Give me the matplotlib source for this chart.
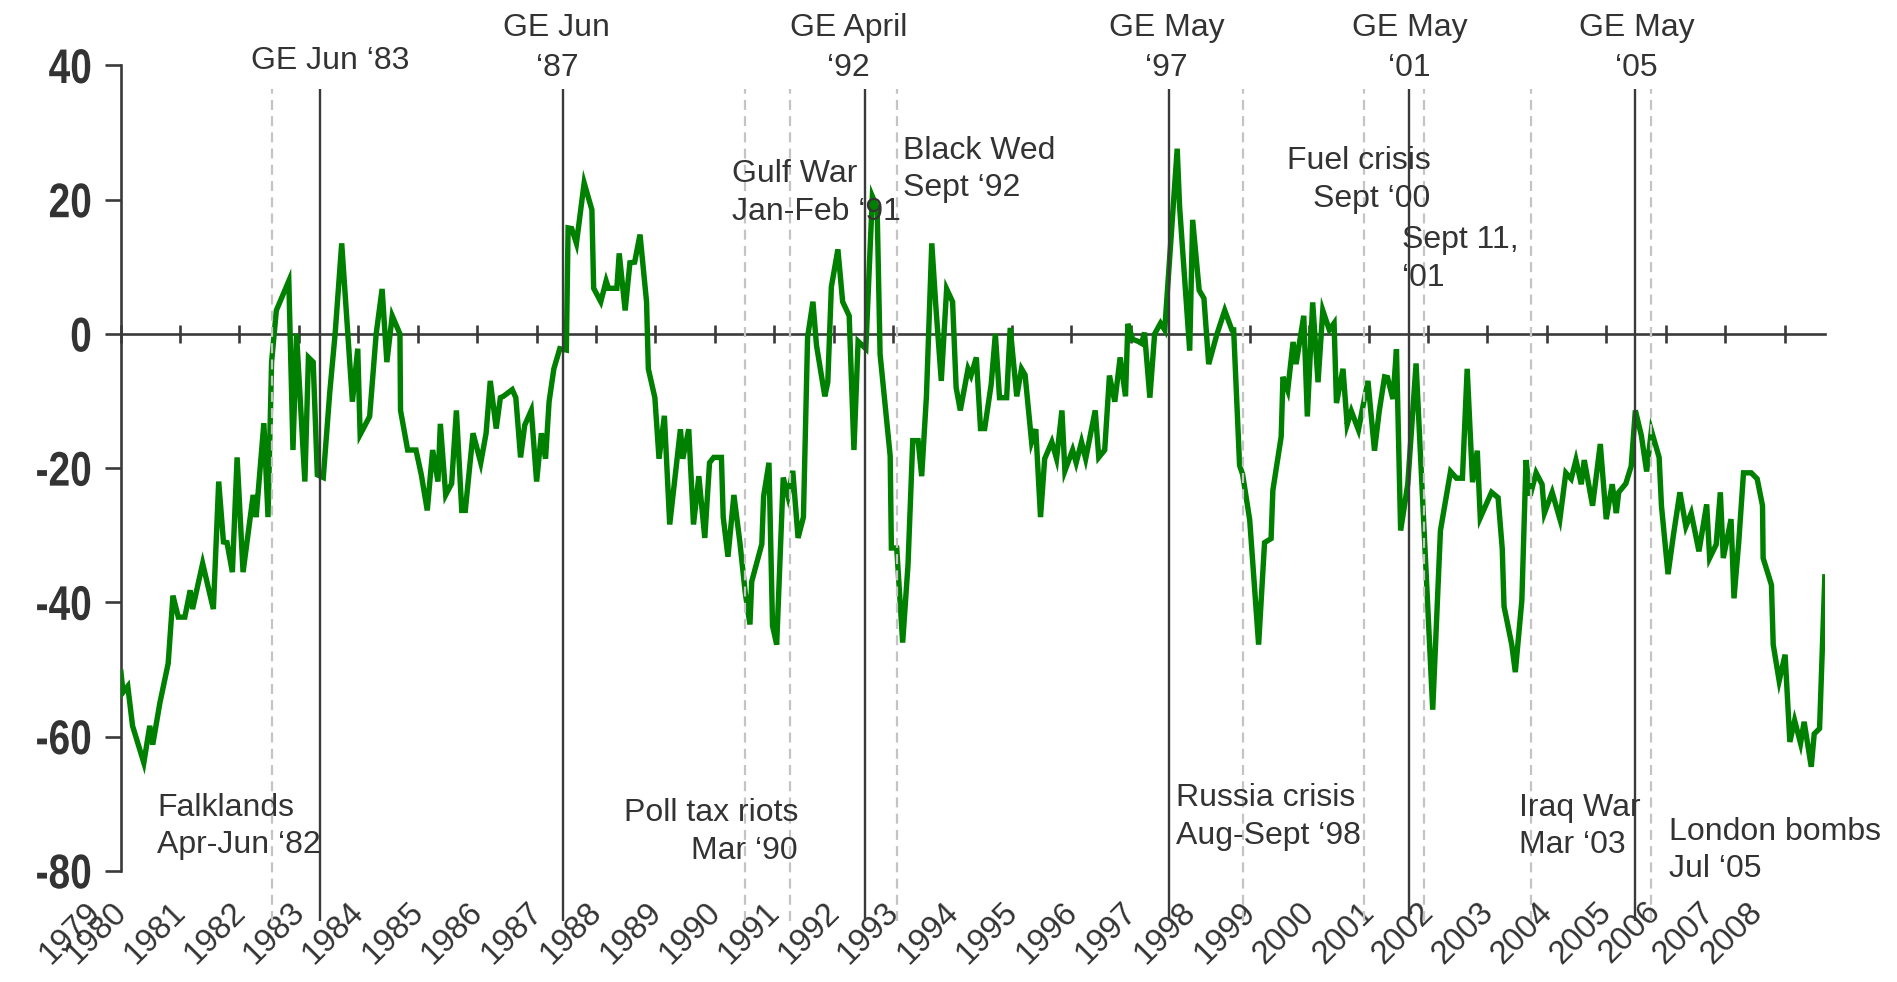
import matplotlib
matplotlib.use("Agg")
import matplotlib.pyplot as plt
import matplotlib.patheffects as pe
from matplotlib.transforms import Affine2D

# ---------------- data ----------------
poll_date = [
    1980.00, 1980.04, 1980.12, 1980.20, 1980.39, 1980.49, 1980.54, 1980.66, 1980.80, 1980.88,
    1980.97, 1981.08, 1981.17, 1981.21, 1981.38, 1981.56, 1981.65, 1981.73, 1981.79, 1981.88,
    1981.96, 1982.06, 1982.23, 1982.28, 1982.41, 1982.48, 1982.54, 1982.62, 1982.83, 1982.90,
    1982.96, 1983.10, 1983.16, 1983.24, 1983.31, 1983.41, 1983.52, 1983.61, 1983.72, 1983.90,
    1983.99, 1984.03, 1984.19, 1984.30, 1984.40, 1984.48, 1984.57, 1984.70, 1984.71, 1984.83,
    1984.97, 1985.06, 1985.16, 1985.25, 1985.34, 1985.38, 1985.47, 1985.57, 1985.65,
    1985.74, 1985.80, 1985.93, 1986.06, 1986.15, 1986.22, 1986.32, 1986.39, 1986.44, 1986.59,
    1986.65, 1986.73, 1986.80, 1986.91, 1987.00, 1987.08, 1987.15, 1987.21, 1987.29, 1987.39,
    1987.50, 1987.53, 1987.59, 1987.67, 1987.80, 1987.93, 1987.96, 1988.08, 1988.17, 1988.21,
    1988.35, 1988.39, 1988.49, 1988.57, 1988.65, 1988.74, 1988.85, 1988.88, 1988.99, 1989.06,
    1989.15, 1989.24, 1989.31, 1989.42, 1989.46, 1989.56, 1989.64, 1989.73, 1989.83, 1989.91,
    1989.98, 1990.11, 1990.14, 1990.22, 1990.32, 1990.42, 1990.51, 1990.59, 1990.62, 1990.79,
    1990.82, 1990.91, 1990.97, 1991.04, 1991.15, 1991.23, 1991.31, 1991.40,
    1991.49, 1991.56, 1991.65, 1991.71, 1991.85, 1991.90, 1991.96, 1992.07, 1992.15, 1992.26,
    1992.34, 1992.41, 1992.54, 1992.65, 1992.73, 1992.78, 1992.95, 1992.97, 1993.06, 1993.16,
    1993.25, 1993.33, 1993.42, 1993.48, 1993.56, 1993.65, 1993.72, 1993.81, 1993.90, 1994.00,
    1994.06, 1994.13, 1994.26, 1994.31, 1994.40, 1994.47, 1994.54, 1994.65, 1994.72, 1994.79,
    1994.91, 1994.97, 1995.08, 1995.16, 1995.22, 1995.33, 1995.40, 1995.48, 1995.55, 1995.67,
    1995.75, 1995.84, 1995.89, 1996.02, 1996.08, 1996.17, 1996.24, 1996.40, 1996.46, 1996.56,
    1996.64, 1996.73, 1996.82, 1996.91, 1996.95, 1997.03, 1997.12,
    1997.18, 1997.23, 1997.32, 1997.40, 1997.50, 1997.57, 1997.78, 1997.82, 1997.99, 1998.04,
    1998.15, 1998.23, 1998.31, 1998.45, 1998.58, 1998.70, 1998.73, 1998.83, 1998.88, 1999.00,
    1999.15, 1999.25, 1999.36, 1999.39, 1999.53, 1999.56, 1999.64, 1999.73, 1999.78, 1999.91,
    1999.97, 2000.06, 2000.15, 2000.23, 2000.34, 2000.42, 2000.46, 2000.57, 2000.64, 2000.71,
    2000.83, 2000.91, 2000.99, 2001.10, 2001.18, 2001.27, 2001.32, 2001.41, 2001.47, 2001.54,
    2001.66, 2001.80, 2002.08, 2002.21, 2002.38, 2002.48, 2002.58, 2002.66, 2002.75, 2002.83,
    2002.88,
    2003.07, 2003.18, 2003.25, 2003.28, 2003.41, 2003.47, 2003.58, 2003.65, 2003.72, 2003.82,
    2003.92, 2003.96, 2004.09, 2004.22, 2004.32, 2004.41, 2004.49, 2004.58, 2004.63, 2004.77,
    2004.90, 2005.00, 2005.10, 2005.17, 2005.21, 2005.33, 2005.42, 2005.49, 2005.59, 2005.68,
    2005.76, 2005.89, 2005.93, 2006.04, 2006.13, 2006.24, 2006.34, 2006.43, 2006.56, 2006.69,
    2006.74, 2006.85, 2006.92, 2006.97, 2007.10, 2007.15, 2007.23, 2007.31, 2007.44, 2007.54,
    2007.63, 2007.64, 2007.78, 2007.81, 2007.91, 2008.01, 2008.09, 2008.17, 2008.27, 2008.33,
    2008.45, 2008.50, 2008.59, 2008.68,
]

net_balance = [
    -50.0, -53.4, -52.5, -58.4, -63.9, -58.4, -61.2, -55.0, -49.1, -39.0,
    -42.2, -42.2, -38.2, -41.0, -34.2, -41.0, -22.0, -31.0, -31.1, -35.5,
    -18.4, -35.5, -24.0, -27.3, -13.3, -27.3, -4.2, 3.5, 7.9, -17.3,
    0.0, -22.0, -3.5, -4.2, -21.0, -21.4, -8.6, 0.1, 13.5, -10.1,
    -2.2, -15.0, -12.3, 0.0, 6.7, -4.2, 2.7, 0.0, -11.4, -17.3,
    -17.3, -21.0, -26.3, -17.3, -22.0, -13.4, -24.0, -22.3, -11.4,
    -26.3, -26.3, -14.8, -19.2, -14.8, -7.0, -14.1, -9.5, -9.3, -8.3,
    -9.5, -18.4, -13.6, -11.4, -22.0, -14.8, -18.6, -10.1, -5.2, -2.2,
    -2.4, 15.8, 15.7, 13.5, 22.5, 18.5, 6.8, 4.8, 7.9, 6.8,
    6.8, 12.0, 3.5, 10.6, 10.7, 14.8, 4.8, -5.2, -9.5, -18.6,
    -12.2, -28.4, -22.9, -14.2, -18.6, -14.2, -28.4, -21.2, -30.4, -19.2,
    -18.4, -18.4, -27.3, -33.2, -24.0, -31.0, -38.5, -43.3, -36.9, -31.3,
    -24.2, -19.2, -43.5, -46.3, -21.4, -24.2, -20.4, -30.4,
    -27.3, -0.5, 4.8, -1.7, -9.3, -7.2, 7.0, 12.6, 4.8, 2.7,
    -17.3, -1.1, -2.2, 20.5, 18.8, -3.0, -18.2, -31.9, -31.9, -46.0,
    -34.4, -15.9, -15.9, -21.2, -9.3, 13.5, 3.9, -7.0, 6.7, 4.8,
    -8.0, -11.4, -5.2, -6.2, -3.5, -14.1, -14.1, -7.5, 0.0, -9.5,
    -9.5, 0.9, -9.3, -5.2, -6.1, -16.1, -14.2, -27.3, -18.6, -16.1,
    -18.6, -11.4, -20.4, -17.3, -19.2, -16.1, -18.6, -11.4, -18.4, -17.3,
    -6.2, -10.1, -3.5, -9.3, 1.5, -0.8, -1.1,
    -1.4, 0.2, -9.5, 0.0, 1.6, 0.6, 27.6, 19.0, -2.5, 17.0,
    6.5, 5.3, -4.5, 0.0, 3.5, 0.6, 0.6, -19.6, -20.9, -27.7,
    -46.3, -31.1, -30.5, -23.3, -15.3, -6.4, -8.4, -1.2, -4.5, 2.7,
    -12.3, 4.7, -7.2, 3.5, 0.6, 1.6, -10.3, -5.2, -13.5, -11.5,
    -14.3, -10.6, -7.0, -17.4, -11.5, -6.4, -6.5, -9.7, -2.3, -29.3,
    -22.4, -4.4, -56.0, -29.3, -20.5, -21.5, -21.5, -5.2, -22.1, -17.4,
    -27.4,
    -23.6, -24.4, -32.0, -40.6, -46.3, -50.4, -39.7, -18.8, -24.1, -20.7,
    -22.4, -26.7, -23.6, -27.6, -20.7, -21.6, -18.8, -22.4, -18.8, -25.6,
    -16.4, -27.6, -22.4, -26.7, -23.6, -22.3, -19.7, -11.4, -15.1, -20.5,
    -14.4, -18.4, -25.7, -35.8, -30.0, -23.6, -28.7, -26.7, -32.4, -25.4,
    -33.4, -31.4, -23.6, -33.4, -27.6, -39.4, -31.0, -20.7, -20.7, -21.6,
    -25.6, -33.4, -37.4, -46.3, -51.7, -47.8, -60.8, -57.6, -61.0, -57.8,
    -64.5, -59.6, -58.8, -35.8,
]

# general elections (solid lines) and their labels
ge_dates = [1983.36, 1987.45, 1992.52, 1997.64, 2001.68, 2005.49]
ge_labels = ["GE Jun \u201883", "GE Jun\n\u201887", "GE April\n\u201892",
             "GE May\n\u201897", "GE May\n\u201801", "GE May\n\u201805"]
ge_label_x = [1983.53, 1987.34, 1992.25, 1997.60, 2001.69, 2005.51]
ge_label_y = [40.6, 42.6, 42.6, 42.6, 42.6, 42.6]

# events (dashed lines) and their labels
event_dates = [1982.55, 1990.50, 1991.26, 1993.06, 1998.89, 2000.92, 2001.94, 2003.74, 2005.76]
event_labels = ["Falklands\nApr-Jun \u201882", "Poll tax riots\nMar \u201890",
                "Gulf War\nJan-Feb \u201891", "Black Wed\nSept \u201892",
                "Russia crisis\nAug-Sept \u201898", "Fuel crisis\nSept \u201800",
                "Sept 11,\n\u201801", "Iraq War\nMar \u201803", "London bombs\nJul \u201805"]
event_label_x = [1980.61, 1991.40, 1990.28, 1993.17, 1997.76, 2002.04, 2001.57, 2003.53, 2006.06]
event_label_y = [-73.4, -74.2, 21.0, 24.5, -72.0, 22.9, 11.2, -73.4, -77.0]
event_label_ha = ["left", "right", "left", "left", "left", "right", "left", "left", "left"]

# axes
year_ticks = list(range(1980, 2009))
year_labels = [str(y) for y in range(1979, 2009)]
year_label_pos = [1979.77, 1980.20, 1981.20, 1982.20, 1983.20, 1984.20, 1985.20, 1986.20,
                  1987.20, 1988.20, 1989.20, 1990.20, 1991.20, 1992.20, 1993.20, 1994.20,
                  1995.20, 1996.20, 1997.20, 1998.20, 1999.20, 2000.20, 2001.20, 2002.20,
                  2003.20, 2004.20, 2005.20, 2006.02, 2006.93, 2007.73]
y_ticks = [-80, -60, -40, -20, 0, 20, 40]
y_tick_labels = ["-80", "-60", "-40", "-20", "0", "20", "40"]

# ---------------- style ----------------
AXIS_COL = "#3a3a3a"
TEXT_COL = "#333333"
GREEN = "#008000"
DASH_COL = "#c4c4c4"
TXT_FONT = ["Liberation Sans", "DejaVu Sans"]
NUM_FONT = ["Liberation Sans", "DejaVu Sans"]


class CondensedText(pe.AbstractPathEffect):
    """Draw text glyphs horizontally squeezed about their right edge
    (imitates a narrow bold face such as Arial Narrow Bold)."""

    def __init__(self, sx=0.8):
        super().__init__()
        self._sx = sx

    def draw_path(self, renderer, gc, tpath, affine, rgbFace=None):
        ext = tpath.get_extents()
        squeeze = (Affine2D().translate(-ext.x1, 0).scale(self._sx, 1.0)
                   .translate(ext.x1, 0))
        renderer.draw_path(gc, tpath, squeeze + affine, rgbFace)


fig = plt.figure(figsize=(18.97, 9.82), dpi=100)
ax = fig.add_axes([0.0636, 0.0586, 0.8984, 0.8747])

ax.set_xlim(1980.0, 2008.68)
ax.set_ylim(-88, 40)

# data line
ax.plot(poll_date, net_balance, color=GREEN, lw=3.9, zorder=3,
        solid_joinstyle="miter", solid_capstyle="butt")

# vertical reference lines
line_top, line_bottom = 36.5, -87.5
ax.vlines(ge_dates, line_bottom, line_top, colors=AXIS_COL, lw=1.7, zorder=4)
ax.vlines(event_dates, line_bottom, line_top, colors=DASH_COL, lw=1.6,
          linestyles=(0, (4.5, 2.8)), zorder=4)

# spines
for s in ("top", "right"):
    ax.spines[s].set_visible(False)
ax.spines["left"].set_bounds(-80, 40)
ax.spines["left"].set_color(AXIS_COL)
ax.spines["left"].set_linewidth(1.9)
ax.spines["bottom"].set_position(("data", 0))
ax.spines["bottom"].set_color(AXIS_COL)
ax.spines["bottom"].set_linewidth(1.9)
ax.spines["left"].set_zorder(2.5)
ax.spines["bottom"].set_zorder(2.5)

ax.set_xticks(year_ticks)
ax.tick_params(axis="x", direction="inout", length=13.5, width=1.9, color=AXIS_COL,
               labelbottom=False)
ax.set_yticks(y_ticks)
ax.set_yticklabels(y_tick_labels)
ax.tick_params(axis="y", direction="out", length=11.5, width=1.9, color=AXIS_COL, pad=9)
for lab in ax.get_yticklabels():
    lab.set_fontfamily(NUM_FONT)
    lab.set_fontweight("bold")
    lab.set_fontsize(35)
    lab.set_color(TEXT_COL)
    lab.set_path_effects([CondensedText(0.8)])

# year labels along the bottom
for pos, lab in zip(year_label_pos, year_labels):
    ax.text(pos, -83.8, lab, rotation=45, ha="right", va="top", fontsize=23.5,
            family=TXT_FONT, color=TEXT_COL, clip_on=False)

# election labels
for x, y, lab in zip(ge_label_x, ge_label_y, ge_labels):
    ax.text(x, y, lab, ha="center", va="center", fontsize=23, family=TXT_FONT,
            color=TEXT_COL, linespacing=1.42, clip_on=False, zorder=5)

# event labels
for x, y, lab, ha in zip(event_label_x, event_label_y, event_labels, event_label_ha):
    ax.text(x, y, lab, ha=ha, va="center", fontsize=23, family=TXT_FONT,
            color=TEXT_COL, linespacing=1.33, clip_on=False, zorder=5)

fig.savefig("out.png", dpi=100)
